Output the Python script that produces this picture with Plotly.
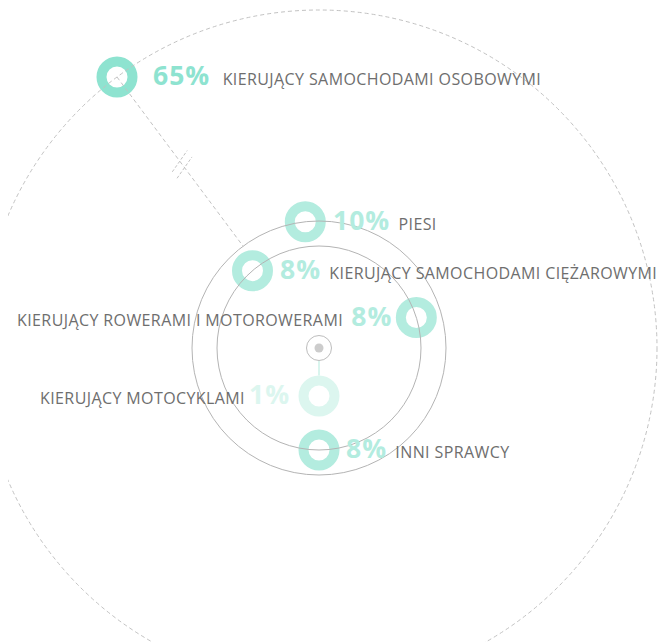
import math
import plotly.graph_objects as go

# ---- data ----
categories = [
    "KIERUJĄCY SAMOCHODAMI OSOBOWYMI",
    "PIESI",
    "KIERUJĄCY SAMOCHODAMI CIĘŻAROWYMI",
    "KIERUJĄCY ROWERAMI I MOTOROWERAMI",
    "KIERUJĄCY MOTOCYKLAMI",
    "INNI SPRAWCY",
]
shares = [65, 10, 8, 8, 1, 8]

# ---- layout (placement of each item, not data) ----
orbit = [338, 127, 102, 102, 48, 102]
angle_deg = [126.7, 96.2, 130.7, 17.4, -90, -90]
label_side = ["right", "right", "right", "left", "left", "right"]
label_gap = [15, 7, 7, 4, 9, 6]
label_spaces = [3, 2, 2, 2, 1, 2]
ring_colors = ["#8ee3d0", "#b3ecdf", "#b3ecdf", "#b3ecdf", "#dcf6ef", "#b3ecdf"]

INNER_R, OUTER_R, BIG_R = 102, 127, 338
RING_OUT = 20.5
LABEL_COLOR = "#6e6e6e"
LINE_GREY = "#b4b4b4"
DASH_GREY = "#c2c2c2"
PAGE_OFF = 8  # default page margin of the html body

xs = [r * math.cos(math.radians(a)) for r, a in zip(orbit, angle_deg)]
ys = [r * math.sin(math.radians(a)) for r, a in zip(orbit, angle_deg)]

fig = go.Figure()
fig.add_trace(go.Scatter(
    x=xs, y=ys, mode="markers",
    marker=dict(symbol="circle-open", size=31, color=ring_colors, line=dict(width=10)),
    hoverinfo="skip", showlegend=False,
))
fig.add_trace(go.Scatter(
    x=[0], y=[0], mode="markers",
    marker=dict(symbol="circle", size=9, color="#cccccc"),
    hoverinfo="skip", showlegend=False,
))

shapes = []
def circ(r, color, dash="solid", width=1):
    shapes.append(dict(type="circle", xref="x", yref="y", x0=-r, y0=-r, x1=r, y1=r,
                       line=dict(color=color, width=width, dash=dash), layer="above"))

circ(INNER_R, LINE_GREY)
circ(OUTER_R, LINE_GREY)
circ(BIG_R, DASH_GREY, dash="4px,3px")
circ(12.5, "#bdbdbd")

a0 = math.radians(angle_deg[0])
shapes.append(dict(type="line", xref="x", yref="y",
                   x0=xs[0], y0=ys[0], x1=OUTER_R * math.cos(a0), y1=OUTER_R * math.sin(a0),
                   line=dict(color=DASH_GREY, width=1, dash="4px,3px"), layer="above"))
tilt = math.radians(55)
for rb in (233, 225):
    cx, cy = rb * math.cos(a0), rb * math.sin(a0)
    hl = 13
    shapes.append(dict(type="line", xref="x", yref="y",
                       x0=cx - hl * math.cos(tilt), y0=cy - hl * math.sin(tilt),
                       x1=cx + hl * math.cos(tilt), y1=cy + hl * math.sin(tilt),
                       line=dict(color=DASH_GREY, width=1, dash="3px,2px"), layer="above"))
i1 = 4
shapes.append(dict(type="line", xref="x", yref="y",
                   x0=0, y0=-12.5, x1=0, y1=ys[i1] + RING_OUT,
                   line=dict(color="#ccf2e8", width=1.5), layer="below"))

annotations = []
for cat, p, x, y, side, gap, nsp, col in zip(categories, shares, xs, ys, label_side,
                                             label_gap, label_spaces, ring_colors):
    pct = f"<span style='font-size:26.5px;letter-spacing:1px;color:{col}'><b>{p}%</b></span>"
    lab = f"<span style='letter-spacing:0.4px'>{cat}</span>"
    sep = "\u00a0" * nsp
    if side == "right":
        txt = pct + sep + lab
        ax, anc = x + RING_OUT + gap - 2, "left"
    else:
        txt = lab + sep + pct
        ax, anc = x - RING_OUT - gap + 2, "right"
    annotations.append(dict(x=ax, y=y, xref="x", yref="y", text=txt, showarrow=False,
                            xanchor=anc, yanchor="middle", yshift=2,
                            font=dict(family="Open Sans", size=16, color=LABEL_COLOR)))

fig.update_layout(
    width=670, height=642,
    margin=dict(l=0, r=0, t=0, b=0),
    paper_bgcolor="white", plot_bgcolor="white",
    xaxis=dict(range=[-319 + PAGE_OFF, 351 + PAGE_OFF], visible=False, fixedrange=True),
    yaxis=dict(range=[-294 - PAGE_OFF, 348 - PAGE_OFF], visible=False, fixedrange=True),
    shapes=shapes, annotations=annotations,
    font=dict(family="Open Sans"),
)
fig.write_html("out.html")
